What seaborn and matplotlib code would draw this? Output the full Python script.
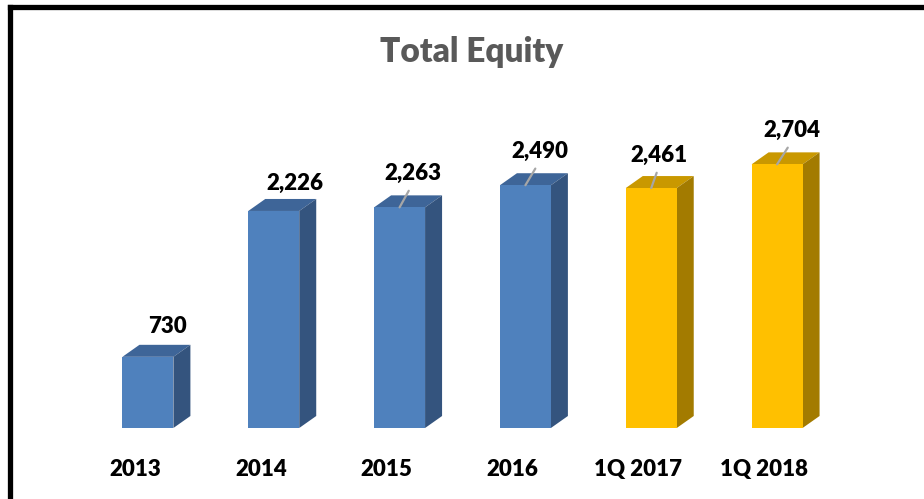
import matplotlib
matplotlib.use("Agg")
import matplotlib.pyplot as plt
import seaborn as sns
import numpy as np
from matplotlib.patches import Polygon
from matplotlib.lines import Line2D
from matplotlib.transforms import ScaledTranslation

categories = ["2013", "2014", "2015", "2016", "1Q 2017", "1Q 2018"]
values = [730, 2226, 2263, 2490, 2461, 2704]
value_labels = ["730", "2,226", "2,263", "2,490", "2,461", "2,704"]
title = "Total Equity"

# styles
front_colors = ["#4F81BD"] * 4 + ["#FFC000"] * 2
top_colors = ["#3E6598"] * 4 + ["#C99800"] * 2
side_colors = ["#34547E"] * 4 + ["#A37B00"] * 2
label_offsets_px = [(20, 30), (21, 28), (13, 34), (14, 34), (8, 33), (15, 34)]
has_leader = [False, False, True, True, True, True]

sns.set_theme(style="white")
plt.rcParams["font.family"] = ["Lato", "DejaVu Sans"]

W, H, DPI = 924, 499, 100
fig = plt.figure(figsize=(W / DPI, H / DPI), dpi=DPI)
fig.patch.set_facecolor("white")

# axes placement in pixels
x_left_px, x_right_px = 85, 840
y_bottom_px = 428
ymax = 3000
px_per_unit = 0.0975
ax_h_px = ymax * px_per_unit
ax = fig.add_axes([x_left_px / W, (H - y_bottom_px) / H,
                   (x_right_px - x_left_px) / W, ax_h_px / H])

sns.barplot(x=categories, y=values, hue=categories, palette=front_colors,
            width=0.405, saturation=1, legend=False, ax=ax, edgecolor="none")
ax.set_xlim(-0.5, len(categories) - 0.5)
ax.set_ylim(0, ymax)
for s in ax.spines.values():
    s.set_visible(False)
ax.set_yticks([])
ax.set_xlabel("")
ax.set_ylabel("")
ax.set_facecolor("none")

# 3D depth (pixels -> data units)
dx_px, dy_px = 17, 12
x_unit_px = (x_right_px - x_left_px) / len(categories)
ddx = dx_px / x_unit_px
ddy = dy_px / px_per_unit

label_font = dict(fontsize=16, fontweight="heavy", color="black")

bars = sorted(ax.patches, key=lambda p: p.get_x())
for i, p in enumerate(bars):
    x0 = p.get_x()
    w = p.get_width()
    h = p.get_height()
    x1 = x0 + w
    top = Polygon([(x0, h), (x1, h), (x1 + ddx, h + ddy), (x0 + ddx, h + ddy)],
                  closed=True, facecolor=top_colors[i], edgecolor="none",
                  clip_on=False, zorder=3)
    side = Polygon([(x1, 0), (x1 + ddx, ddy), (x1 + ddx, h + ddy), (x1, h)],
                   closed=True, facecolor=side_colors[i], edgecolor="none",
                   clip_on=False, zorder=3)
    ax.add_patch(top)
    ax.add_patch(side)
    p.set_zorder(4)
    ox, oy = label_offsets_px[i]
    cx = x0 + w / 2
    kw = dict(xy=(cx, h), xytext=(ox, oy), textcoords="offset pixels",
              ha="center", va="center", annotation_clip=False, zorder=6, **label_font)
    if has_leader[i]:
        kw["arrowprops"] = dict(arrowstyle="-", color="#A6A6A6", lw=1.6,
                                shrinkA=3, shrinkB=0, relpos=(0.5, 0.0))
    ax.annotate(value_labels[i], **kw)

ax.tick_params(axis="x", length=0, pad=22, labelsize=16)
for lab in ax.get_xticklabels():
    lab.set_fontweight("heavy")
    lab.set_color("black")
    lab.set_transform(lab.get_transform() + ScaledTranslation(-13 / DPI, 0, fig.dpi_scale_trans))

fig.text(472 / W, 1 - 52 / H, title, ha="center", va="center",
         fontsize=24, fontweight="heavy", color="#595959")

# outer border (left and top)
fig.add_artist(Line2D([9.5 / W, 9.5 / W], [0, 1 - 7 / H], color="black", lw=3.8,
                      transform=fig.transFigure, solid_capstyle="projecting"))
fig.add_artist(Line2D([9.5 / W, 1], [1 - 7 / H, 1 - 7 / H], color="black", lw=3.8,
                      transform=fig.transFigure, solid_capstyle="projecting"))

fig.savefig("out.png", dpi=DPI, facecolor="white")
